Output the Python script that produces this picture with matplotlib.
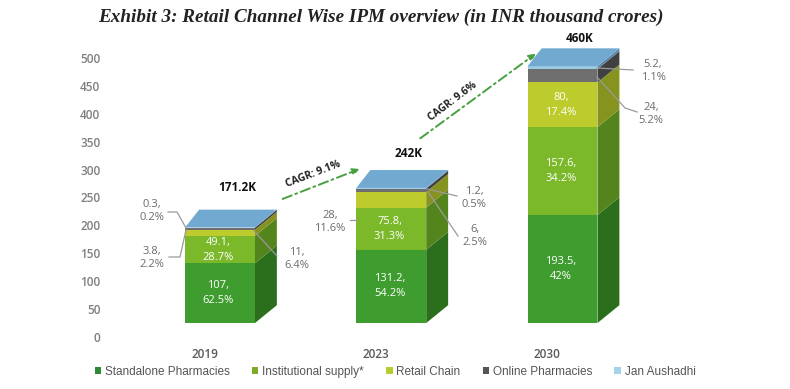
import numpy as np
import matplotlib.pyplot as plt
from matplotlib.patches import Polygon

# data (INR thousand crores)
years = ['2019', '2023', '2030']
channels = ['Standalone Pharmacies', 'Institutional supply*', 'Retail Chain',
            'Online Pharmacies', 'Jan Aushadhi']
standalone = [107, 131.2, 193.5]
institutional = [49.1, 75.8, 157.6]
retail = [11, 28, 80]
online = [3.8, 6, 24]
jan_aushadhi = [0.3, 1.2, 5.2]
standalone_pct = ['62.5%', '54.2%', '42%']
institutional_pct = ['28.7%', '31.3%', '34.2%']
retail_pct = ['6.4%', '11.6%', '17.4%']
online_pct = ['2.2%', '2.5%', '5.2%']
jan_pct = ['0.2%', '0.5%', '1.1%']
totals = ['171.2K', '242K', '460K']
cagr = ['CAGR: 9.1%', 'CAGR: 9.6%']

series = [standalone, institutional, retail, online, jan_aushadhi]
pcts = [standalone_pct, institutional_pct, retail_pct, online_pct, jan_pct]

front_cols = ['#3f9c2e', '#7bb82a', '#bdcc2c', '#6e6e6e', '#9ccbe6']
side_cols = ['#2b6f1d', '#54851d', '#87931f', '#404040', '#5b86a8']
legend_cols = ['#2e8a30', '#7aac2a', '#b8cc30', '#555555', '#a5d3ee']
top_col = '#72a9d1'

W, H = 790, 389
fig = plt.figure(figsize=(W / 100, H / 100), dpi=100)
ax = fig.add_axes([106 / W, 0.062, (760 - 106) / W, 0.875])
ax.set_xlim(-0.6657, 3.153)
ax.set_ylim(-50, 560)


def px(x, y):
    # pixel position in the picture -> data coords
    return (x - 220) / 171.25, (337 - y) / 0.558


base = 25          # front face floor of the 3d bars
half = 0.204
dxr, dxl, dy = 0.128, 0.082, 32

for i in range(len(years)):
    x0, x1 = i - half, i + half
    bottom = base
    for s, vals in enumerate(series):
        v = vals[i]
        top = bottom + v
        ax.add_patch(Polygon([(x1, bottom), (x1 + dxr, bottom + dy),
                              (x1 + dxr, top + dy), (x1, top)],
                             closed=True, fc=side_cols[s], ec='none'))
        ax.add_patch(Polygon([(x0, bottom), (x1, bottom), (x1, top), (x0, top)],
                             closed=True, fc=front_cols[s], ec='none'))
        bottom = top
    ax.add_patch(Polygon([(x0, bottom), (x1, bottom), (x1 + dxr, bottom + dy),
                          (x0 + dxl, bottom + dy)], closed=True, fc=top_col, ec='none'))

# labels inside the bars
inside = [(0, 0), (0, 1), (1, 0), (1, 1), (2, 0), (2, 1), (2, 2)]
for i, s in inside:
    b = base + sum(series[k][i] for k in range(s))
    ax.text(i - 0.01, b + series[s][i] / 2, f'{series[s][i]:g},\n{pcts[s][i]}',
            ha='center', va='center', color='white', fontsize=8,
            family='Open Sans', linespacing=1.5)

# callouts outside the bars: (bar, series, text px, leader px)
callouts = [
    (0, 4, (152, 211), [(168, 212), (177, 212), (186, 228)]),
    (0, 3, (152, 258), [(169, 257), (180, 257), (186, 230)]),
    (0, 2, (297, 259), [(254, 231), (277, 256)]),
    (1, 2, (330, 222), [(350, 220), (357, 220)]),
    (1, 4, (474, 198), [(427, 189), (457, 196)]),
    (1, 3, (475, 236), [(428, 192), (458, 236)]),
    (2, 4, (653, 71), [(597, 68), (633, 70)]),
    (2, 3, (651, 114), [(597, 77), (625, 108), (637, 112)]),
]
for i, s, tp, lp in callouts:
    ax.text(*px(*tp), f'{series[s][i]:g},\n{pcts[s][i]}', ha='center', va='center',
            color='#6b6b6b', fontsize=8, family='Open Sans', linespacing=1.3)
    pts = np.array([px(*p) for p in lp])
    ax.plot(pts[:, 0], pts[:, 1], color='#9a9a9a', lw=0.9)

# totals above the bars
total_dy = [22, 17, 10]
for i in range(len(years)):
    top = base + sum(v[i] for v in series) + dy
    ax.annotate(totals[i], (i + 0.1, top), xytext=(0, total_dy[i]),
                textcoords='offset pixels', ha='center', va='center',
                fontsize=8.5, fontweight='bold', family='Open Sans', color='#111111')

# CAGR arrows
arrows = [((280, 200), (362, 168), (313, 174), 21),
          ((418, 140), (538, 52), (453, 102), 37)]
for k, (a, b, t, rot) in enumerate(arrows):
    ax.annotate('', xy=px(*b), xytext=px(*a),
                arrowprops=dict(arrowstyle='-|>', color='#47a040', lw=1.4,
                                linestyle=(0, (5, 2, 1, 2)), mutation_scale=10))
    ax.text(*px(*t), cagr[k], rotation=rot, ha='center', va='center',
            fontsize=7.5, fontweight='bold', family='Open Sans', color='#222222',
            rotation_mode='anchor')

# year labels
for i, y in enumerate(years):
    ax.text(i - 0.09, -32, y, ha='center', va='center', fontsize=8.5,
            color='#5a5a5a', family='Open Sans', fontweight='semibold')

ax.set_yticks(np.arange(0, 501, 50))
ax.tick_params(axis='y', length=0, pad=4, labelsize=8.5, labelcolor='#7f7f7f')
for lab in ax.get_yticklabels():
    lab.set_family('Open Sans')
    lab.set_fontweight('semibold')
ax.set_xticks([])
for sp in ax.spines.values():
    sp.set_visible(False)

handles = [plt.Rectangle((0, 0), 1, 1, fc=c, ec='none') for c in legend_cols]
leg = fig.legend(handles, channels, loc='center', bbox_to_anchor=(0.5, 1 - 372 / H),
                 ncol=5, frameon=False, handlelength=0.55,
                 handleheight=0.55, handletextpad=0.3, columnspacing=1.9,
                 prop={'family': 'Liberation Sans', 'size': 8.5})
for t in leg.get_texts():
    t.set_color('#555555')

fig.text(381 / W, 1 - 17 / H, 'Exhibit 3: Retail Channel Wise IPM overview (in INR thousand crores)',
         ha='center', va='center', fontsize=13.8, fontweight='bold', style='italic',
         family='Liberation Serif', color='#222222')

fig.savefig('out.png', dpi=100)
